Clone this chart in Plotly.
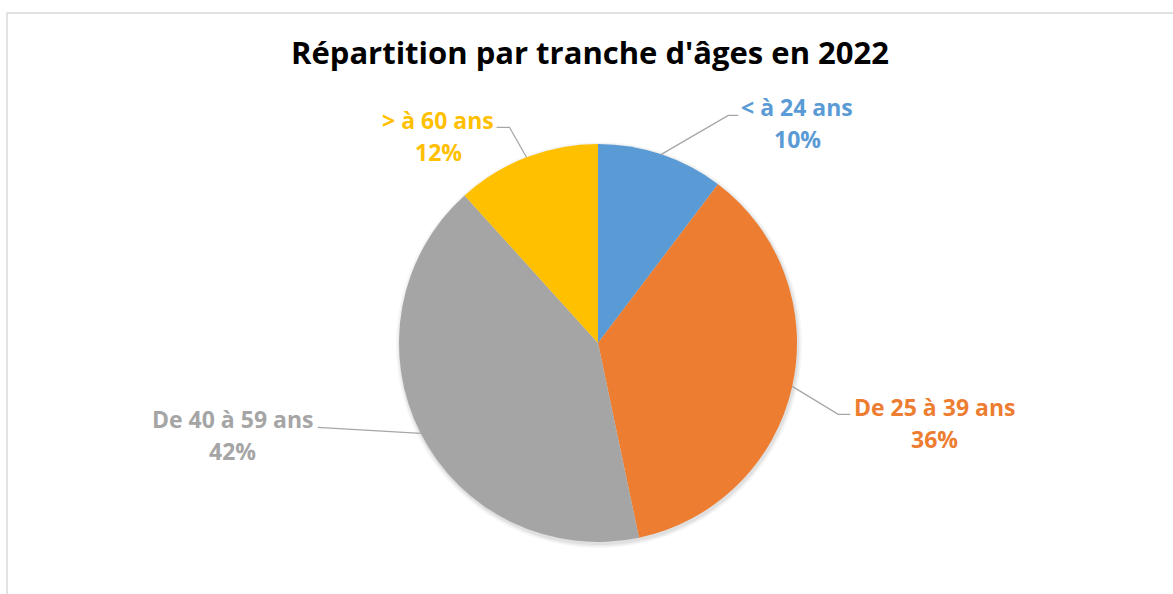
import math
import plotly.graph_objects as go

# ---- data ----
categories = ["< à 24 ans", "De 25 à 39 ans", "De 40 à 59 ans", "> à 60 ans"]
values = [10.3, 36.4, 41.6, 11.7]
colors = ["#5B9BD5", "#ED7D31", "#A5A5A5", "#FFC000"]
title_text = "Répartition par tranche d'âges en 2022"

# ---- layout / style (pixels) ----
W, H = 1173, 594
CX, CY, R = 598, 343, 199
FONT = "'Open Sans', Lato, sans-serif"
LEADER = "#A6A6A6"
LINE_GAP = 32
# per-label offsets relative to the leader start (elbow, end, text centre)
label_style = [
    dict(elbow=(67, -39), end=(77, -39), text=(136, -31)),
    dict(elbow=(46, 28), end=(58, 28), text=(142, 37)),
    dict(elbow=(-103, -6), end=(-103, -6), text=(-188, 2)),
    dict(elbow=(-17, -30), end=(-30, -30), text=(-88, -21)),
]


def px(x):
    return x / W


def py(y):
    return 1 - y / H


fig = go.Figure()
fig.add_trace(go.Pie(
    labels=categories,
    values=values,
    sort=False,
    direction="clockwise",
    rotation=0,
    marker=dict(colors=colors, line=dict(width=0)),
    textinfo="none",
    hoverinfo="label+percent",
    showlegend=False,
    domain=dict(x=[px(CX - R), px(CX + R)], y=[py(CY + R), py(CY - R)]),
))

shapes = []
annotations = []

# chart border
shapes.append(dict(type="rect", xref="paper", yref="paper",
                   x0=px(7), x1=px(W + 20), y0=py(H + 20), y1=py(13),
                   line=dict(color="#D9D9D9", width=1.5), layer="below"))
# soft shadow behind the pie
for k, a in [(4, 0.03), (2.5, 0.04), (1.2, 0.05)]:
    shapes.append(dict(type="circle", xref="paper", yref="paper",
                       x0=px(CX - R - k + 1), x1=px(CX + R + k + 1),
                       y0=py(CY + R + k + 2), y1=py(CY - R - k + 2),
                       fillcolor=f"rgba(0,0,0,{a})", line=dict(width=0), layer="below"))

total = sum(values)
cum = 0
for cat, v, col, st in zip(categories, values, colors, label_style):
    mid = (cum + v / 2) / total * 2 * math.pi
    cum += v
    sx = CX + R * math.sin(mid)
    sy = CY - R * math.cos(mid)
    ex, ey = sx + st["elbow"][0], sy + st["elbow"][1]
    fx, fy = sx + st["end"][0], sy + st["end"][1]
    shapes.append(dict(type="path", xref="paper", yref="paper",
                       path=f"M {px(sx)} {py(sy)} L {px(ex)} {py(ey)} L {px(fx)} {py(fy)}",
                       line=dict(color=LEADER, width=1.3)))
    pct = round(v / total * 100)
    tx, ty = sx + st["text"][0], sy + st["text"][1]
    for line_text, dy in [(cat, -LINE_GAP / 2), (f"{pct}%", LINE_GAP / 2)]:
        annotations.append(dict(
            x=px(tx), y=py(ty + dy),
            xref="paper", yref="paper", showarrow=False,
            text=f"<b>{line_text}</b>", align="center",
            xanchor="center", yanchor="middle",
            font=dict(family=FONT, size=23, color=col)))

annotations.append(dict(
    x=px(590), y=py(52), xref="paper", yref="paper", showarrow=False,
    text=f"<b>{title_text}</b>", xanchor="center", yanchor="middle",
    font=dict(family=FONT, size=31, color="#000000")))

fig.update_layout(
    width=W, height=H,
    margin=dict(l=0, r=0, t=0, b=0),
    paper_bgcolor="white", plot_bgcolor="white",
    shapes=shapes, annotations=annotations,
)

fig.write_html("out.html", config={"displayModeBar": False},
               post_script="document.body.style.margin='0';")
